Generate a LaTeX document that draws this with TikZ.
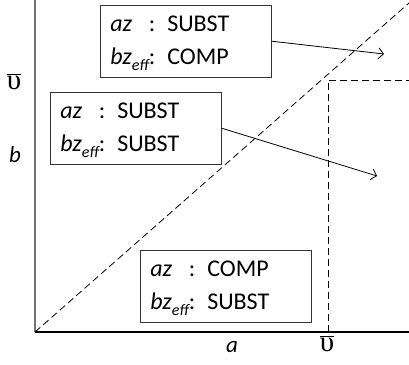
\documentclass[tikz,border=0pt]{standalone}
\usepackage{fontspec}
\setmainfont{Carlito}
\newfontfamily\serifgr{Liberation Serif}
\usetikzlibrary{arrows.meta}
\newcommand{\ubar}{$\overline{\mbox{\serifgr\fontsize{29}{32}\selectfont υ}}$}
\tikzset{
  infobox/.style={draw=black!80, line width=0.8pt, rectangle, minimum width=171pt, minimum height=70pt, align=left, anchor=north west, font=\fontsize{24}{32}\selectfont, inner xsep=10pt, text width=151pt},
  axis/.style={line width=1.3pt},
  guide/.style={line width=0.8pt, dash pattern=on 7pt off 4pt},
  pointer/.style={line width=0.8pt, -{Straight Barb[length=5pt,width=11pt]}},
  lab/.style={font=\fontsize{23}{26}\selectfont\itshape}
}
\newcommand{\effsub}{\raisebox{-6pt}{\fontsize{16}{17}\selectfont\itshape eff}}
\newcommand{\rows}[2]{\begin{tabular}{@{}l@{}l@{}}\itshape az & : #1\\[1pt] \itshape bz\effsub & : #2\end{tabular}}
\begin{document}
\begin{tikzpicture}[x=1pt,y=-1pt]
\useasboundingbox (0,0) rectangle (409,364);
\coordinate (o) at (35,332);
\coordinate (ytop) at (35,0);
\coordinate (xend) at (409,332);
\coordinate (dtop) at (409,3);
\coordinate (vb) at (328,332);
\coordinate (vt) at (328,80);
\coordinate (vr) at (409,80);
\draw[axis, draw=black!55] (o) -- (ytop);
\draw[axis] (o) -- (xend);
\draw[guide] (o) -- (dtop);
\draw[guide] (vb) -- (vt) -- (vr);
\node[infobox] (b1) at (100,5) {\rows{SUBST}{COMP}};
\node[infobox] (b2) at (50,92) {\rows{SUBST}{SUBST}};
\node[infobox] (b3) at (140,250) {\rows{COMP}{SUBST}};
\coordinate (t1) at (384,54);
\coordinate (t2) at (377,176);
\draw[pointer] (b1.east) -- (t1);
\draw[pointer] (b2.east) -- (t2);
\node[lab] (lb) at (15,155) {b};
\node[lab] (la) at (232,347) {a};
\node (vl) at (14,82) {\ubar};
\node (vx) at (327,344) {\ubar};
\end{tikzpicture}
\end{document}
